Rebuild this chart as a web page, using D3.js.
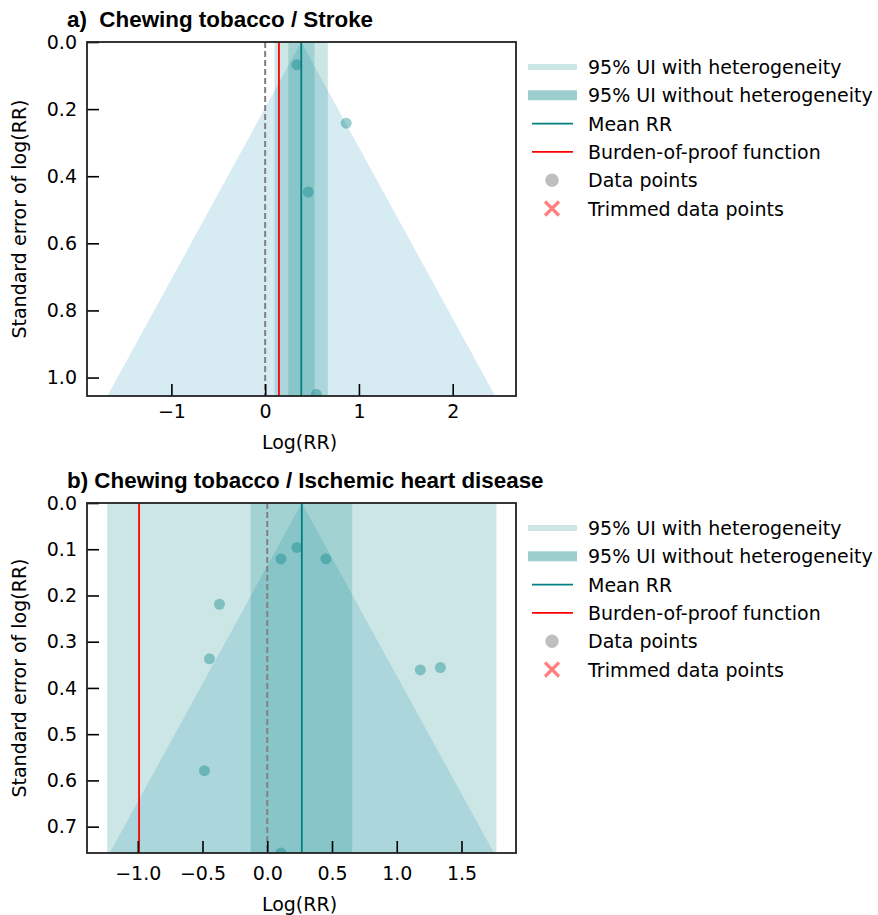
<!DOCTYPE html>
<html>
<head>
<meta charset="utf-8">
<script src="https://cdn.jsdelivr.net/npm/d3@7"></script>
<style>
  body { margin: 0; background: #fff; }
  text { font-family: "DejaVu Sans", sans-serif; }
</style>
</head>
<body>
<svg id="chart" width="878" height="915"></svg>
<script>
// panel a: chewing tobacco / stroke
const strokeX = [0.338, 0.864, 0.46, 0.545];
const strokeSE = [0.068, 0.242, 0.447, 1.05];
const strokeMean = 0.385;
const strokeInner = [0.247, 0.527];
const strokeOuter = [0.10, 0.668];
const strokeBop = 0.147;
const strokeXDomain = [-1.9, 2.675];
const strokeYMax = 1.055;
const strokeXTicks = [-1, 0, 1, 2];
const strokeYTicks = [0, 0.2, 0.4, 0.6, 0.8, 1.0];

// panel b: chewing tobacco / ischemic heart disease
const ihdX = [0.229, 0.106, 0.453, -0.369, -0.446, 1.182, 1.337, -0.485, 0.106];
const ihdSE = [0.096, 0.121, 0.121, 0.219, 0.337, 0.361, 0.356, 0.579, 0.757];
const ihdMean = 0.267;
const ihdInner = [-0.128, 0.656];
const ihdOuter = [-1.236, 1.77];
const ihdBop = -0.99;
const ihdXDomain = [-1.392, 1.921];
const ihdYMax = 0.757;
const ihdXTicks = [-1.0, -0.5, 0.0, 0.5, 1.0, 1.5];
const ihdYTicks = [0, 0.1, 0.2, 0.3, 0.4, 0.5, 0.6, 0.7];

const legendLabels = ["95% UI with heterogeneity", "95% UI without heterogeneity",
  "Mean RR", "Burden-of-proof function", "Data points", "Trimmed data points"];

const teal = "#008080";
const fontSize = "19px";
const svg = d3.select("#chart");

function drawPanel(opts) {
  const left = 87, right = 516, plotW = right - left, plotH = opts.height;
  const g = svg.append("g").attr("transform", "translate(" + left + "," + opts.top + ")");
  const x = d3.scaleLinear().domain(opts.xDomain).range([0, plotW]);
  const y = d3.scaleLinear().domain([0, opts.yMax]).range([0, plotH]);
  const clipId = "clip_" + opts.id;

  g.append("clipPath").attr("id", clipId)
    .append("rect").attr("width", plotW).attr("height", plotH);
  const plot = g.append("g").attr("clip-path", "url(#" + clipId + ")");

  // funnel: mean +/- 1.96 * se
  const funnel = [[opts.mean, 0], [opts.mean - 1.96 * opts.yMax, opts.yMax], [opts.mean + 1.96 * opts.yMax, opts.yMax]];
  plot.append("path")
    .attr("d", d3.line().x(d => x(d[0])).y(d => y(d[1]))(funnel) + "Z")
    .style("fill", "lightblue")
    .style("fill-opacity", 0.5);

  // uncertainty bands
  [opts.outer, opts.inner].forEach(band => {
    plot.append("rect")
      .attr("x", x(band[0]))
      .attr("y", 0)
      .attr("width", x(band[1]) - x(band[0]))
      .attr("height", plotH)
      .style("fill", teal)
      .style("fill-opacity", 0.2);
  });

  // axes with inward ticks
  g.append("g")
    .attr("transform", "translate(0," + plotH + ")")
    .call(d3.axisBottom(x).tickValues(opts.xTicks).tickSizeInner(-12).tickSizeOuter(0)
      .tickPadding(opts.xPad).tickFormat(opts.xFormat))
    .call(a => a.select(".domain").remove())
    .call(a => a.selectAll("line").style("stroke-width", 1.6))
    .call(a => a.selectAll("text").style("font-size", fontSize).style("font-family", "DejaVu Sans"));
  g.append("g")
    .call(d3.axisLeft(y).tickValues(opts.yTicks).tickSizeInner(-12).tickSizeOuter(0)
      .tickPadding(10).tickFormat(d3.format(".1f")))
    .call(a => a.select(".domain").remove())
    .call(a => a.selectAll("line").style("stroke-width", 1.6))
    .call(a => a.selectAll("text").style("font-size", fontSize).style("font-family", "DejaVu Sans"));
  g.selectAll(".tick text").text(function() { return this.textContent.replace("-", "\u2212"); });

  // reference lines
  plot.append("line")
    .attr("x1", x(0)).attr("x2", x(0)).attr("y1", 0).attr("y2", plotH)
    .style("stroke", "gray").style("stroke-width", 2).style("stroke-dasharray", "6,3");
  plot.append("line")
    .attr("x1", x(opts.mean)).attr("x2", x(opts.mean)).attr("y1", 0).attr("y2", plotH)
    .style("stroke", teal).style("stroke-width", 1.8);
  plot.append("line")
    .attr("x1", x(opts.bop)).attr("x2", x(opts.bop)).attr("y1", 0).attr("y2", plotH)
    .style("stroke", "red").style("stroke-width", 1.8);

  // data points
  plot.selectAll(".pt")
    .data(opts.xs.map((v, i) => ({x: v, se: opts.ses[i]})))
    .enter()
    .append("circle")
      .attr("cx", d => x(d.x))
      .attr("cy", d => y(d.se))
      .attr("r", 5.5)
      .style("fill", teal)
      .style("fill-opacity", 0.38);

  // frame
  g.append("rect").attr("width", plotW).attr("height", plotH)
    .style("fill", "none").style("stroke", "#222").style("stroke-width", 1.8);

  // titles and labels
  g.append("text")
    .attr("x", -20).attr("y", -15)
    .text(opts.title)
    .style("font-family", "Liberation Sans, Arial, sans-serif")
    .style("font-weight", "bold")
    .style("font-size", "22.4px")
    .style("white-space", "pre");
  g.append("text")
    .attr("x", plotW / 2 - 2).attr("y", plotH + opts.xLabelGap)
    .text("Log(RR)")
    .style("text-anchor", "middle")
    .style("font-size", fontSize);
  g.append("text")
    .attr("transform", "translate(-61," + plotH / 2 + ") rotate(-90)")
    .text("Standard error of log(RR)")
    .style("text-anchor", "middle")
    .style("font-size", fontSize);

  // legend
  const lg = svg.append("g").attr("transform", "translate(528," + (opts.top + 25) + ")");
  const rowH = 28.3;
  legendLabels.forEach((lab, i) => {
    const cy = i * rowH;
    if (i === 0 || i === 1) {
      const h = i === 0 ? 6 : 10;
      lg.append("rect").attr("x", 0).attr("y", cy - h / 2).attr("width", 49).attr("height", h)
        .style("fill", i === 0 ? "#cce6e6" : "#9ccece");
    } else if (i === 2 || i === 3) {
      lg.append("line").attr("x1", 4).attr("x2", 45).attr("y1", cy).attr("y2", cy)
        .style("stroke", i === 2 ? teal : "red").style("stroke-width", 1.8);
    } else if (i === 4) {
      lg.append("circle").attr("cx", 24).attr("cy", cy).attr("r", 6.7)
        .style("fill", "gray").style("fill-opacity", 0.5);
    } else {
      lg.append("path").attr("d", "M17," + (cy - 7) + "L31," + (cy + 7) + "M17," + (cy + 7) + "L31," + (cy - 7))
        .style("stroke", "red").style("stroke-opacity", 0.5).style("stroke-width", 3.2);
    }
    lg.append("text").attr("x", 60).attr("y", cy + 7).text(lab).style("font-size", fontSize);
  });
}

drawPanel({
  id: "a", top: 42, height: 354, title: "a)  Chewing tobacco / Stroke",
  xs: strokeX, ses: strokeSE, mean: strokeMean, inner: strokeInner, outer: strokeOuter,
  bop: strokeBop, xDomain: strokeXDomain, yMax: strokeYMax,
  xTicks: strokeXTicks, yTicks: strokeYTicks, xFormat: d3.format("d"),
  xPad: 9, xLabelGap: 53
});
drawPanel({
  id: "b", top: 503, height: 350, title: "b) Chewing tobacco / Ischemic heart disease",
  xs: ihdX, ses: ihdSE, mean: ihdMean, inner: ihdInner, outer: ihdOuter,
  bop: ihdBop, xDomain: ihdXDomain, yMax: ihdYMax,
  xTicks: ihdXTicks, yTicks: ihdYTicks, xFormat: d3.format(".1f"),
  xPad: 14, xLabelGap: 58
});
</script>
</body>
</html>
